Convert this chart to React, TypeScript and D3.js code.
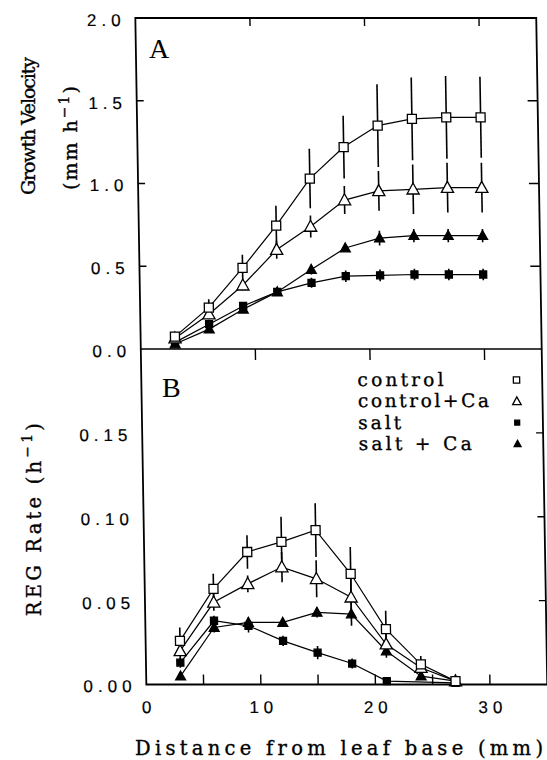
import React from "react";
import * as d3 from "d3";

// ---------- data ----------
const velDistances = [3, 6, 9, 12, 15, 18, 21, 24, 27, 30];
const velControl = [0.075, 0.25, 0.49, 0.745, 1.03, 1.22, 1.35, 1.39, 1.4, 1.4];
const velControlErr = [0.02, 0.05, 0.08, 0.12, 0.18, 0.19, 0.25, 0.25, 0.25, 0.245];
const velControlCa = [0.065, 0.21, 0.385, 0.6, 0.74, 0.9, 0.955, 0.965, 0.975, 0.975];
const velControlCaErr = [0.02, 0.03, 0.03, 0.055, 0.067, 0.085, 0.12, 0.15, 0.15, 0.15];
const velSalt = [0.04, 0.15, 0.26, 0.345, 0.4, 0.44, 0.445, 0.45, 0.45, 0.45];
const velSaltErr = [0.02, 0.025, 0.02, 0.01, 0.03, 0.035, 0.035, 0.035, 0.035, 0.035];
const velSaltCa = [0.03, 0.12, 0.24, 0.345, 0.48, 0.61, 0.67, 0.685, 0.685, 0.685];
const velSaltCaErr = [0.02, 0.02, 0.02, 0.015, 0.03, 0.02, 0.045, 0.04, 0.04, 0.04];

const regDistances = [3, 6, 9, 12, 15, 18, 21, 24, 27];
const regSaltDistances = [3, 6, 9, 12, 15, 18, 21, 27];
const regControl = [0.026, 0.057, 0.079, 0.085, 0.092, 0.066, 0.033, 0.012, 0.002];
const regControlErr = [0.008, 0.009, 0.01, 0.015, 0.016, 0.016, 0.011, 0.005, 0.001];
const regControlCa = [0.02, 0.049, 0.06, 0.07, 0.063, 0.052, 0.024, 0.01, 0.002];
const regControlCaErr = [0.006, 0.005, 0.005, 0.009, 0.011, 0.012, 0.006, 0.004, 0.001];
const regSalt = [0.013, 0.038, 0.035, 0.026, 0.019, 0.0125, 0.002, 0.001];
const regSaltErr = [0.003, 0.003, 0.004, 0.003, 0.004, 0.003, 0.001, 0.001];
const regSaltCa = [0.005, 0.034, 0.037, 0.037, 0.043, 0.042, 0.02, 0.005, 0.002];
const regSaltCaErr = [0.002, 0.003, 0.003, 0.002, 0.003, 0.007, 0.004, 0.002, 0.001];

const legendLabels = ["control", "control+Ca", "salt", "salt + Ca"];
const legendWidths = [86, 131, 43, 113];
const velTicks = [0, 0.5, 1.0, 1.5, 2.0];
const regTicks = [0, 0.05, 0.1, 0.15];
const xLabelTicks = [0, 10, 20, 30];
const xMinorTicks = [5, 10, 15, 20, 25, 30];
const xTopTicks = [10, 20, 30];

// ---------- layout ----------
const W = 547;
const H = 760;
const K = 0.0165; // scan shear
const SKEW = (Math.atan(K) * 180) / Math.PI;
const PIN_Y = 349;

const x = d3.scaleLinear().domain([0, 35]).range([140.8, 541.7]);
const yTop = d3.scaleLinear().domain([0, 2]).range([349, 18]);
const yBot = d3.scaleLinear().domain([0, 0.2]).range([684.5, 349]);

type Marker = "openSq" | "openTri" | "fillSq" | "fillTri";
const markers: Marker[] = ["openSq", "openTri", "fillSq", "fillTri"];

function markerPath(m: Marker, s: number) {
  if (m === "openSq" || m === "fillSq") {
    const h = s / 2;
    return `M${-h},${-h}H${h}V${h}H${-h}Z`;
  }
  const h = s;
  return `M0,${-h * 0.6}L${h * 0.58},${h * 0.45}L${-h * 0.58},${h * 0.45}Z`;
}

function Mark({ m, cx, cy, big }: { m: Marker; cx: number; cy: number; big: number }) {
  const filled = m === "fillSq" || m === "fillTri";
  let s = 0;
  if (m === "openSq") s = 9 * big;
  if (m === "openTri") s = 10.5 * big;
  if (m === "fillSq") s = 7 * big;
  if (m === "fillTri") s = 8.5 * big;
  return (
    <path
      d={markerPath(m, s)}
      transform={`translate(${cx},${cy})`}
      fill={filled ? "#000" : "#fff"}
      stroke="#000"
      strokeWidth={1.3}
    />
  );
}

interface Series {
  xs: number[];
  ys: number[];
  errs: number[];
  m: Marker;
}

const velSeries: Series[] = [
  { xs: velDistances, ys: velSalt, errs: velSaltErr, m: "fillSq" },
  { xs: velDistances, ys: velSaltCa, errs: velSaltCaErr, m: "fillTri" },
  { xs: velDistances, ys: velControlCa, errs: velControlCaErr, m: "openTri" },
  { xs: velDistances, ys: velControl, errs: velControlErr, m: "openSq" },
];
const regSeries: Series[] = [
  { xs: regSaltDistances, ys: regSalt, errs: regSaltErr, m: "fillSq" },
  { xs: regDistances, ys: regSaltCa, errs: regSaltCaErr, m: "fillTri" },
  { xs: regDistances, ys: regControlCa, errs: regControlCaErr, m: "openTri" },
  { xs: regDistances, ys: regControl, errs: regControlErr, m: "openSq" },
];

function Panel({ series, y }: { series: Series[]; y: d3.ScaleLinear<number, number> }) {
  const line = d3
    .line<[number, number]>()
    .x((d) => x(d[0]))
    .y((d) => y(d[1]));
  return (
    <g>
      {series.map((s, i) => (
        <path
          key={"l" + i}
          d={line(s.xs.map((v, j) => [v, s.ys[j]] as [number, number])) || ""}
          fill="none"
          stroke="#000"
          strokeWidth={1.2}
        />
      ))}
      {series.map((s, i) =>
        s.xs.map((v, j) => (
          <line
            key={"e" + i + "-" + j}
            x1={x(v)}
            x2={x(v)}
            y1={y(Math.max(0, s.ys[j] - s.errs[j]))}
            y2={y(s.ys[j] + s.errs[j])}
            stroke="#000"
            strokeWidth={1.6}
          />
        ))
      )}
      {series.map((s, i) =>
        s.xs.map((v, j) => <Mark key={"m" + i + "-" + j} m={s.m} cx={x(v)} cy={y(s.ys[j])} big={1} />)
      )}
    </g>
  );
}

const typeFont = "'DejaVu Serif', serif";
const sansFont = "'Liberation Sans', Arial, sans-serif";
const serifFont = "'Liberation Serif', serif";
const LS = 5;
const TW = 0.35; // text stroke for heavier typewriter look

export default function App() {
  const [xl, xr] = x.range();
  const fmt1 = d3.format(".1f");
  const fmt2 = d3.format(".2f");
  return (
    <svg
      width={W}
      height={H}
      style={{ position: "absolute", left: 0, top: 0, background: "#fff" }}
      viewBox={`0 0 ${W} ${H}`}
    >
      <rect width={W} height={H} fill="#fff" />
      <g transform={`translate(${-K * PIN_Y},0) skewX(${SKEW})`}>
        {/* frames */}
        <rect x={xl} y={yTop(2)} width={xr - xl} height={yBot(0) - yTop(2)} fill="none" stroke="#000" strokeWidth={1.8} />
        <line x1={xl} x2={xr} y1={yTop(0)} y2={yTop(0)} stroke="#000" strokeWidth={1.6} />

        {/* top panel ticks */}
        {xTopTicks.map((t) => (
          <line key={"tt" + t} x1={x(t)} x2={x(t)} y1={yTop(2)} y2={yTop(2) + 8} stroke="#000" strokeWidth={1.4} />
        ))}
        {xTopTicks.map((t) => (
          <line key={"mt" + t} x1={x(t)} x2={x(t)} y1={yTop(0)} y2={yTop(0) + 11} stroke="#000" strokeWidth={1.4} />
        ))}
        {velTicks.slice(1, 4).map((t) => (
          <g key={"vt" + t}>
            <line x1={xr - 10} x2={xr} y1={yTop(t)} y2={yTop(t)} stroke="#000" strokeWidth={1.4} />
            <line x1={xl} x2={xl + 7} y1={yTop(t)} y2={yTop(t)} stroke="#000" strokeWidth={1.4} />
          </g>
        ))}
        {/* bottom panel ticks */}
        {xMinorTicks.map((t) => (
          <line key={"bt" + t} x1={x(t)} x2={x(t)} y1={yBot(0)} y2={yBot(0) - 10} stroke="#000" strokeWidth={1.4} />
        ))}
        {regTicks.slice(1).map((t) => (
          <line key={"rt" + t} x1={xr - 7} x2={xr} y1={yBot(t)} y2={yBot(t)} stroke="#000" strokeWidth={1.4} />
        ))}

        {/* tick labels */}
        {velTicks.map((t) => (
          <text key={"vl" + t} x={126 + LS} y={yTop(t) + 8} textAnchor="end" fontFamily={sansFont} fontSize={17} letterSpacing={LS} stroke="#000" strokeWidth={0.2}>
            {fmt1(t)}
          </text>
        ))}
        {regTicks.map((t) => (
          <text key={"rl" + t} x={126 + LS} y={yBot(t) + 8} textAnchor="end" fontFamily={sansFont} fontSize={17} letterSpacing={LS} stroke="#000" strokeWidth={0.2}>
            {fmt2(t)}
          </text>
        ))}
        {xLabelTicks.map((t) => (
          <text key={"xl" + t} x={x(t) + LS / 2} y={713} textAnchor="middle" fontFamily={sansFont} fontSize={17} letterSpacing={LS} stroke="#000" strokeWidth={0.2}>
            {String(t)}
          </text>
        ))}

        <Panel series={velSeries} y={yTop} />
        <Panel series={regSeries} y={yBot} />

        {/* legend */}
        {legendLabels.map((lab, i) => (
          <g key={"lg" + i}>
            <text
              x={357}
              y={386 + i * 21.3}
              fontFamily={typeFont}
              fontSize={18.5}
              textLength={legendWidths[i]}
              lengthAdjust="spacing"
              stroke="#000"
              strokeWidth={TW}
            >
              {lab}
            </text>
            <Mark m={markers[i]} cx={516} cy={380 + i * 21.3} big={0.7} />
          </g>
        ))}
      </g>

      {/* panel letters */}
      <text x={149} y={58} fontFamily={serifFont} fontSize={28}>A</text>
      <text x={162} y={397} fontFamily={serifFont} fontSize={28}>B</text>

      {/* axis titles */}
      <text
        transform="translate(35,126) rotate(-90)"
        textAnchor="middle"
        fontFamily={typeFont}
        fontSize={19}
        textLength={138}
        lengthAdjust="spacing"
        stroke="#000"
        strokeWidth={TW}
      >
        Growth Velocity
      </text>
      <text
        transform="translate(77,137) rotate(-90)"
        textAnchor="middle"
        fontFamily={typeFont}
        fontSize={19}
        letterSpacing={2}
        stroke="#000"
        strokeWidth={TW}
      >
        (mm h
        <tspan fontSize={14} dy={-8}>−1</tspan>
        <tspan dy={8}>)</tspan>
      </text>
      <text
        transform="translate(41,518) rotate(-90)"
        textAnchor="middle"
        fontFamily={typeFont}
        fontSize={19.5}
        letterSpacing={3.2}
        stroke="#000"
        strokeWidth={TW}
      >
        REG Rate (h
        <tspan fontSize={14} dy={-9}>−1</tspan>
        <tspan dy={9}>)</tspan>
      </text>
      <text
        x={339}
        y={755}
        textAnchor="middle"
        fontFamily={typeFont}
        fontSize={19.5}
        textLength={408}
        lengthAdjust="spacing"
        stroke="#000"
        strokeWidth={TW}
      >
        Distance from leaf base (mm)
      </text>
    </svg>
  );
}
